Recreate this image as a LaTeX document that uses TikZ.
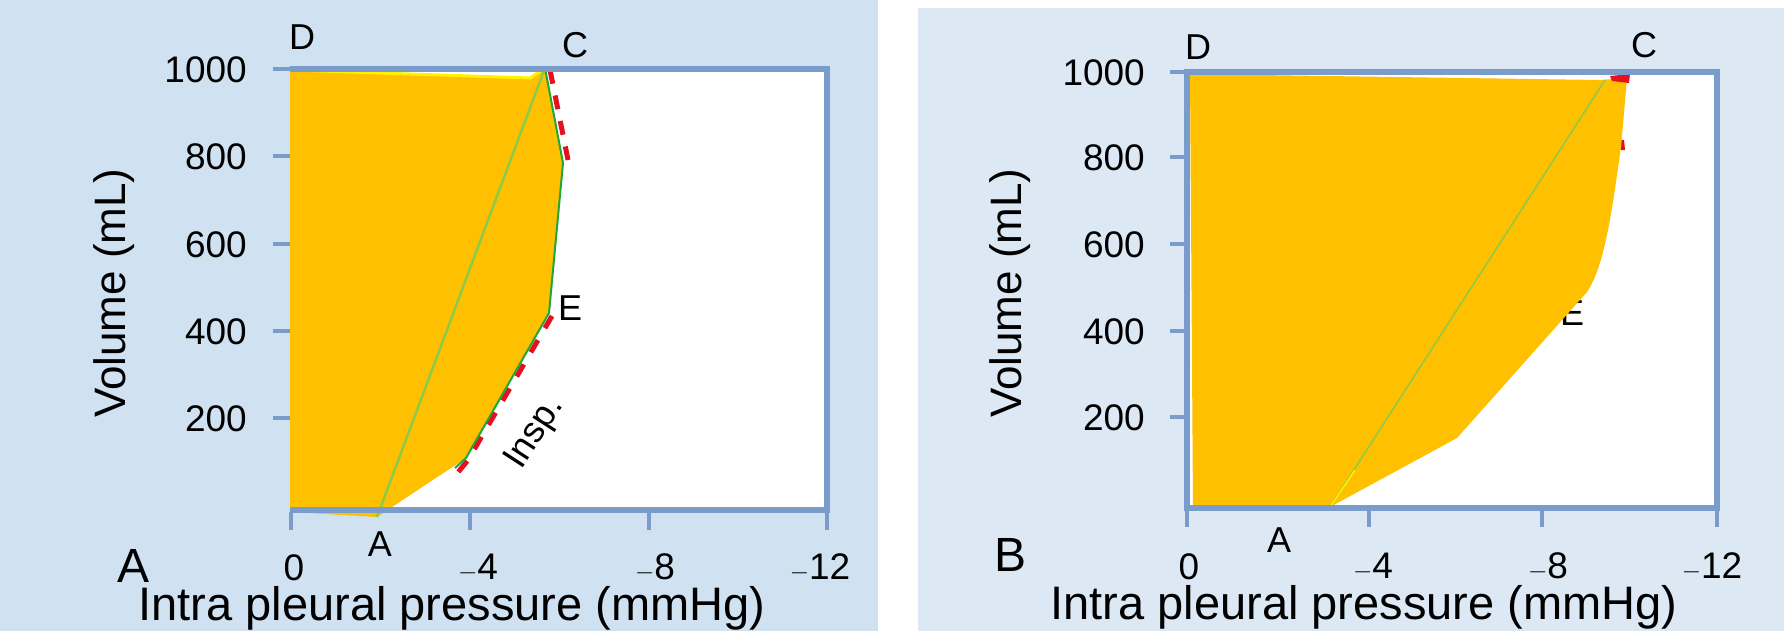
\documentclass[tikz,border=0pt]{standalone}
\usepackage{fontspec}
\setmainfont{Liberation Sans}
\definecolor{bgA}{HTML}{D0E1F1}
\definecolor{bgB}{HTML}{DCE8F4}
\definecolor{frame}{HTML}{7A9CCB}
\definecolor{orfill}{HTML}{FFC000}
\definecolor{redd}{HTML}{E8101E}
\definecolor{grn}{HTML}{1FA83A}
\definecolor{lgrn}{HTML}{8CCB4A}
\tikzset{
  ax/.style={draw=frame,line width=6pt},
  tk/.style={draw=frame,line width=4pt},
  tl/.style={font=\fontsize{37}{42}\selectfont,inner sep=0pt},
  lab/.style={font=\fontsize{36}{42}\selectfont,inner sep=0pt},
  ttl/.style={font=\fontsize{47}{52}\selectfont,inner sep=0pt},
  vl/.style={font=\fontsize{44}{50}\selectfont,inner sep=0pt,rotate=90},
  pl/.style={font=\fontsize{48}{52}\selectfont,inner sep=0pt},
}
\begin{document}
\begin{tikzpicture}[x=1pt,y=-1pt]
\useasboundingbox (0,0) rectangle (1784,635);
% backgrounds
\fill[bgA] (0,0) rectangle (878,631);
\fill[bgB] (918,8) rectangle (1784,631);
% ===== Panel A =====
\fill[white] (290,69) rectangle (827,510);
\draw[redd,line width=5pt,dash pattern=on 14pt off 12pt] (550,70) -- (568,160);
\draw[redd,line width=5pt,dash pattern=on 14pt off 14pt] (552,316) -- (468,460) -- (455,476);
\fill[orfill] (290,69) -- (530,78) -- (545,68) -- (563,163) -- (549,313) -- (466,458) -- (377,517) -- (290,512) -- cycle;
\draw[grn,line width=2pt] (545,68) -- (563,163) -- (549,313) -- (466,458) -- (455,468);
\draw[yellow,line width=3pt] (290,70) -- (530,78) -- (545,68);
\draw[lgrn,line width=2.5pt] (377,517) -- (545,68);
\draw[ax] (290,69) -- (827,69) -- (827,510) -- (290,510);
\foreach \y in {69,156,244,331,418} \draw[tk] (273,\y) -- (290,\y);
\foreach \x in {291,470,649,827} \draw[tk] (\x,512) -- (\x,530);
\node[tl,anchor=east] (a1000) at (247,70) {1000};
\node[tl,anchor=east] (a800) at (247,157) {800};
\node[tl,anchor=east] (a600) at (247,245) {600};
\node[tl,anchor=east] (a400) at (247,332) {400};
\node[tl,anchor=east] (a200) at (247,419) {200};
\node[tl] (ax0) at (294,568) {0};
\node[tl] (ax4) at (478,568) {$-$4};
\node[tl] (ax8) at (655,568) {$-$8};
\node[tl] (ax12) at (820,568) {$-$12};
\node[ttl] (atitle) at (452,608) {Intra pleural pressure (mmHg)};
\node[vl] (avol) at (114,293) {Volume (mL)};
\node[lab] (aD) at (302,37) {D};
\node[lab] (aC) at (575,45) {C};
\node[lab] (aE) at (570,308) {E};
\node[lab] (aA) at (380,544) {A};
\node[lab,rotate=57] (ains) at (535,433) {Insp.};
\node[pl] (pA) at (134,566) {A};
% ===== Panel B =====
\fill[white] (1187,72) rectangle (1717,508);
\node[lab] (bE) at (1572,313) {E};
\draw[redd,line width=4pt] (1490,390) -- (1482,405);
\draw[redd,line width=4pt] (1622,140) -- (1623,150);
\fill[orfill] (1190,74) -- (1600,80) -- (1627,78) -- (1621,147)
  .. controls (1612,210) and (1605,265) .. (1587,292) -- (1457,438) -- (1330,507) -- (1193,510) -- cycle;
\fill[redd] (1610,76) -- (1630,74) -- (1629,83) -- (1612,81) -- cycle;
\draw[lgrn,line width=1.5pt] (1330,507) -- (1605,80);
\draw[yellow,line width=1.5pt] (1330,507) -- (1355,470);
\draw[ax] (1187,72) -- (1717,72) -- (1717,508) -- (1187,508) -- cycle;
\foreach \y in {72,157,244,331,417} \draw[tk] (1170,\y) -- (1187,\y);
\foreach \x in {1187,1369,1542,1717} \draw[tk] (\x,510) -- (\x,527);
\node[tl,anchor=east] (b1000) at (1145,73) {1000};
\node[tl,anchor=east] (b800) at (1145,158) {800};
\node[tl,anchor=east] (b600) at (1145,245) {600};
\node[tl,anchor=east] (b400) at (1145,332) {400};
\node[tl,anchor=east] (b200) at (1145,418) {200};
\node[tl] (bx0) at (1189,567) {0};
\node[tl] (bx4) at (1373,567) {$-$4};
\node[tl] (bx8) at (1548,567) {$-$8};
\node[tl] (bx12) at (1712,567) {$-$12};
\node[ttl] (btitle) at (1364,607) {Intra pleural pressure (mmHg)};
\node[vl] (bvol) at (1010,293) {Volume (mL)};
\node[lab] (bD) at (1198,47) {D};
\node[lab] (bC) at (1644,45) {C};
\node[lab] (bA) at (1279,540) {A};
\node[pl] (pB) at (1010,555) {B};
\end{tikzpicture}
\end{document}
